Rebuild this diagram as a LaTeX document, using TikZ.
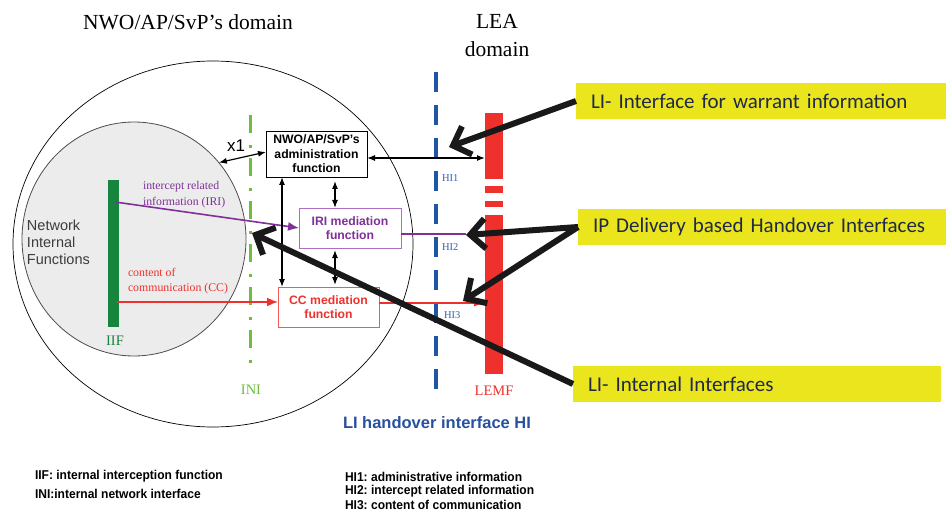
\documentclass[tikz,border=0pt]{standalone}
\usepackage{fontspec}
\setmainfont{Liberation Serif}
\setsansfont{Liberation Sans}
\newfontfamily\calib{Carlito}
\newfontfamily\narrowb[FakeStretch=0.94]{Liberation Sans}
\usetikzlibrary{arrows.meta,shapes.geometric}
\definecolor{iifG}{RGB}{22,134,62}
\definecolor{iniG}{RGB}{110,190,60}
\definecolor{hiB}{RGB}{30,85,165}
\definecolor{hiText}{RGB}{55,95,175}
\definecolor{lblue}{RGB}{40,80,160}
\definecolor{lemfR}{RGB}{238,49,44}
\definecolor{iriP}{RGB}{128,48,152}
\definecolor{iriBorder}{RGB}{175,110,195}
\definecolor{ccR}{RGB}{238,49,44}
\definecolor{hlY}{RGB}{235,229,30}
\definecolor{navy}{RGB}{32,42,70}
\definecolor{circG}{RGB}{236,236,236}
\definecolor{nifText}{RGB}{60,60,60}
\definecolor{arrowK}{RGB}{25,25,25}
\frenchspacing
\begin{document}
\begin{tikzpicture}[x=1pt,y=-1pt,
  every node/.style={inner sep=0pt, outer sep=0pt},
  fbox/.style={draw, line width=0.9pt, align=center, font=\sffamily\bfseries\fontsize{12.2}{14.5}\selectfont, minimum width=101pt},
  thinarr/.style={line width=1.2pt, {Latex[length=8pt,width=6pt]}-{Latex[length=8pt,width=6pt]}},
  colarr/.style={line width=1.6pt, -{Latex[length=11pt,width=9pt]}},
  bigarr/.style={line width=6pt, draw=arrowK, -{Straight Barb[length=15pt,width=30pt]}},
  ybox/.style={fill=hlY, text=navy, font=\calib\fontsize{21}{25}\selectfont, minimum height=36pt, inner xsep=15pt, anchor=west, align=left},
  smallser/.style={font=\fontsize{11.8}{15.5}\selectfont, align=left, anchor=west},
  hilbl/.style={text=hiText, font=\fontsize{10.5}{12}\selectfont, anchor=west},
  bigser/.style={font=\fontsize{14.5}{16}\selectfont},
  legend/.style={font=\narrowb\bfseries\fontsize{12.8}{14.5}\selectfont, anchor=west, align=left},
  redseg/.style={fill=lemfR, minimum width=18pt}
]
\fill[white] (0,0) rectangle (947,513);
\useasboundingbox (0,0) rectangle (947,513);

% domains
\node[ellipse, draw=black, line width=0.7pt, minimum width=400pt, minimum height=366pt] (outer) at (213,244) {};
\node[ellipse, draw=black!70, fill=circG, line width=0.8pt, minimum width=224pt, minimum height=234pt] (inner) at (134,239) {};

\node[font=\fontsize{21.5}{28}\selectfont] (ttl) at (188,22) {NWO/AP/SvP’s domain};
\node[font=\fontsize{21.5}{28}\selectfont, align=center] (lea) at (497,36) {LEA\\domain};

\node[anchor=west, align=left, text=nifText, font=\sffamily\fontsize{14.5}{17}\selectfont] (nif) at (27,242) {Network\\Internal\\Functions};

% IIF bar
\node[fill=iifG, minimum width=11pt, minimum height=147pt] (iif) at (113.5,253.5) {};
\node[text=iifG, bigser] (iiflbl) at (115,341) {IIF};

% INI line
\draw[iniG, line width=3pt, dash pattern=on 18pt off 12pt on 3pt off 10pt] (250,115) -- (250,370);
\node[text=iniG, bigser] (inilbl) at (251,390) {INI};

% HI line
\draw[hiB, line width=4pt, dash pattern=on 20pt off 13pt] (436,72) -- (436,398);
\node[hilbl] (hi1) at (442,178) {HI1};
\node[hilbl] (hi2) at (442,247) {HI2};
\node[hilbl] (hi3) at (444,315) {HI3};

% LEMF bar
\node[redseg, minimum height=66pt] (lemftop) at (494,146) {};
\node[redseg, minimum height=7pt] (lemfd1) at (494,189.5) {};
\node[redseg, minimum height=6pt] (lemfd2) at (494,204) {};
\node[redseg, minimum height=159pt] (lemf) at (494,294.5) {};
\node[text=lemfR, bigser] (lemflbl) at (494,391) {LEMF};

\node[text=lblue, font=\sffamily\bfseries\fontsize{16.5}{20}\selectfont, anchor=west] (lih) at (343,423) {LI handover interface HI};

% function boxes
\node[fbox, draw=black, text=black, minimum height=46pt] (admin) at (316.5,154) {NWO/AP/SvP’s\\administration\\function};
\node[fbox, draw=iriBorder, text=iriP, minimum width=102pt, minimum height=40pt] (iri) at (350,228) {IRI mediation\\function};
\node[fbox, draw=ccR!80, text=ccR, minimum height=40pt] (cc) at (328.5,307) {CC mediation\\function};

% labels
\node[smallser, text=iriP] (irilbl) at (143,194.5) {intercept related\\information (IRI)};
\node[smallser, text=ccR] (cclbl) at (128,281) {content of\\communication (CC)};
\node[font=\sffamily\fontsize{17}{17}\selectfont] (x1lbl) at (236,146) {x1};

% connectors
\coordinate (iriStart) at (115,202);
\coordinate (ccStart) at (117,302);
\coordinate (iriEnd) at (466,234);
\draw[iriP, colarr] (iriStart) -- (iri.west);
\draw[ccR, colarr] (ccStart) -- (cc.west |- 0,302);
\draw[iriP, line width=1.6pt] (iri.east |- 0,234) -- (iriEnd);
\draw[ccR, line width=1.2pt, -{Latex[length=11pt,width=7pt]}] (cc.east |- 0,303) -- (lemf.west |- 0,303);
\draw[thinarr] (admin.east |- 0,158) -- (lemftop.west |- 0,158);
\draw[thinarr] (inner.42) -- ([yshift=2pt]admin.west);
\draw[thinarr] (admin.south -| 282,0) -- (cc.north -| 282,0);
\draw[thinarr, shorten <=4pt] (admin.south -| 335,0) -- (iri.north -| 335,0);
\draw[thinarr, shorten <=2pt, shorten >=2pt] (iri.south -| 335,0) -- (cc.north -| 335,0);

% yellow callouts
\node[ybox, text width=340pt] (y1) at (576,101) {LI- Interface for warrant information};
\node[ybox, text width=338pt] (y2) at (578,227) {IP Delivery based Handover Interfaces};
\node[ybox, text width=338pt] (y3) at (573,384) {LI- Internal Interfaces};

\coordinate (t1) at (449,147);
\coordinate (t2a) at (466,235);
\coordinate (t2b) at (463,301);
\coordinate (t3) at (252,233);
\draw[bigarr] (y1.west) -- (t1);
\draw[bigarr] (y2.west) -- (t2a);
\draw[bigarr] (y2.west) -- (t2b);
\draw[bigarr] (y3.west) -- (t3);

% legend
\node[legend] (lg1) at (35,476) {IIF: internal interception function};
\node[legend] (lg2) at (35,494) {INI:internal network interface};
\node[legend] (lg3) at (345,477) {HI1: administrative information};
\node[legend] (lg4) at (345,491) {HI2: intercept related information};
\node[legend] (lg5) at (345,505) {HI3: content of communication};
\end{tikzpicture}
\end{document}
